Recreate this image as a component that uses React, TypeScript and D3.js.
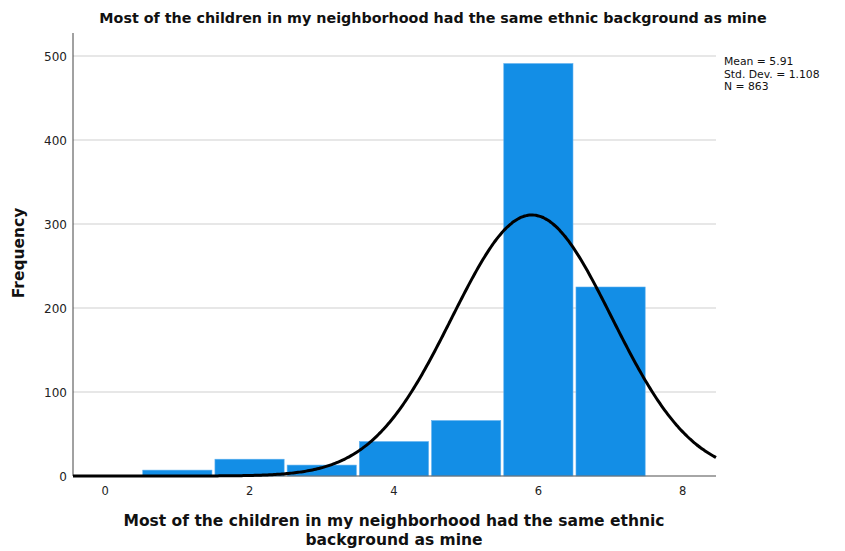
import React from "react";
import * as d3 from "d3";

const categories = [1, 2, 3, 4, 5, 6, 7];
const frequencies = [7, 20, 13, 41, 66, 491, 225];
const xTicks = [0, 2, 4, 6, 8];
const yTicks = [0, 100, 200, 300, 400, 500];
const mean = 5.91;
const stdDev = 1.108;
const n = 863;
const title = "Most of the children in my neighborhood had the same ethnic background as mine";
const xLabelLines = ["Most of the children in my neighborhood had the same ethnic", "background as mine"];
const yLabel = "Frequency";
const legendLines = ["Mean = 5.91", "Std. Dev. = 1.108", "N = 863"];

const W = 845;
const H = 551;
const left = 73;
const right = 716;
const top = 33;
const bottom = 476;

export default function App() {
  const x = d3.scaleLinear().domain([-0.445, 8.46]).range([left, right]);
  const y = d3.scaleLinear().domain([0, 500]).range([bottom, 56]);
  const font = "'DejaVu Sans', Verdana, sans-serif";

  const curvePts = d3.range(0, 401).map((i) => {
    const v = -0.445 + (i / 400) * (8.46 + 0.445);
    const pdf = Math.exp(-0.5 * ((v - mean) / stdDev) ** 2) / (stdDev * Math.sqrt(2 * Math.PI));
    return [v, n * pdf] as [number, number];
  });
  const line = d3
    .line<[number, number]>()
    .x((d) => x(d[0]))
    .y((d) => y(d[1]))
    .curve(d3.curveBasis);

  return (
    <svg width={W} height={H} style={{ position: "absolute", left: 0, top: 0, background: "#fff" }}>
      <text x={433} y={23} textAnchor="middle" fontFamily={font} fontWeight="bold" fontSize={14.3} fill="#111">
        {title}
      </text>
      {yTicks.map((t) => (
        <line key={"g" + t} x1={left} x2={right} y1={y(t)} y2={y(t)} stroke="#cfcfcf" strokeWidth={1} />
      ))}
      {categories.map((c, i) => (
        <rect
          key={c}
          x={x(c - 0.5) + 1.5}
          width={x(c + 0.5) - x(c - 0.5) - 3}
          y={y(frequencies[i])}
          height={y(0) - y(frequencies[i])}
          fill="#138ee6"
          stroke="#5fb0ee"
          strokeWidth={0.6}
        />
      ))}
      <line x1={left} x2={right} y1={bottom} y2={bottom} stroke="#666" strokeWidth={1.2} />
      <line x1={left} x2={left} y1={top} y2={bottom} stroke="#444" strokeWidth={1} />
      <path d={line(curvePts) || ""} fill="none" stroke="#000" strokeWidth={3} />
      {yTicks.map((t) => (
        <text key={"yt" + t} x={67} y={y(t) + 4.5} textAnchor="end" fontFamily={font} fontSize={12} fill="#222">
          {t}
        </text>
      ))}
      {xTicks.map((t) => (
        <text key={"xt" + t} x={x(t)} y={495} textAnchor="middle" fontFamily={font} fontSize={11.5} fill="#222">
          {t}
        </text>
      ))}
      <text
        transform={`translate(24,253) rotate(-90)`}
        textAnchor="middle"
        fontFamily={font}
        fontWeight="bold"
        fontSize={15.5}
        fill="#111"
      >
        {yLabel}
      </text>
      {xLabelLines.map((l, i) => (
        <text key={l} x={394} y={526 + i * 18.5} textAnchor="middle" fontFamily={font} fontWeight="bold" fontSize={15.5} fill="#111">
          {l}
        </text>
      ))}
      {legendLines.map((l, i) => (
        <text key={l} x={724} y={65 + i * 12.5} fontFamily={font} fontSize={10.8} fill="#111">
          {l}
        </text>
      ))}
    </svg>
  );
}
